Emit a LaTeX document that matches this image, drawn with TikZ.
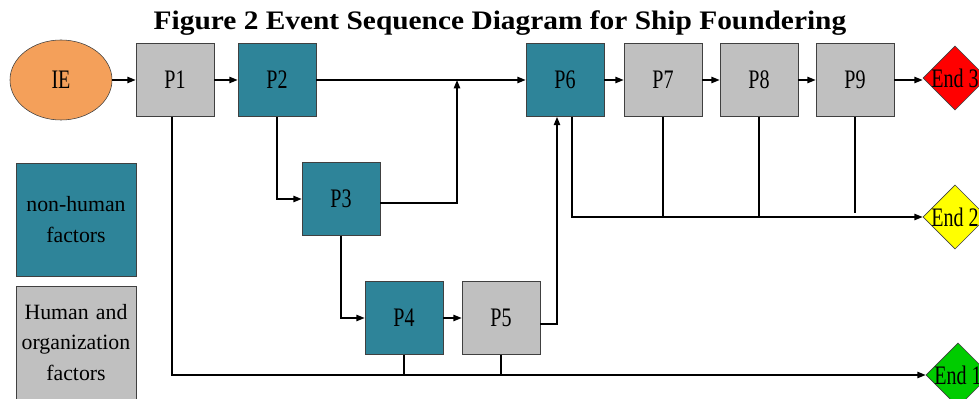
\documentclass[tikz,border=0pt]{standalone}
\usepackage{fontspec}
\setmainfont{Liberation Serif}
\newfontfamily\narrowfont[FakeStretch=0.75]{Liberation Serif}
\newfontfamily\titlefont[FakeStretch=1.1]{Liberation Serif}
\usetikzlibrary{shapes.geometric,arrows.meta}
\definecolor{factorteal}{RGB}{46,132,153}
\definecolor{factorgray}{RGB}{192,192,192}
\definecolor{ieorange}{RGB}{244,160,90}
\definecolor{endred}{RGB}{255,0,0}
\definecolor{endyellow}{RGB}{255,255,0}
\definecolor{endgreen}{RGB}{0,204,0}

\begin{document}
\begin{tikzpicture}[x=0.025cm, y=-0.025cm, font=\fontsize{15.5}{22}\selectfont]
        \tikzstyle{proc}=[rectangle, draw=black!75, minimum width=1.95cm, minimum height=1.825cm, inner sep=1pt, font=\fontsize{19}{22}\narrowfont]
        \tikzstyle{nonhuman}=[proc, fill=factorteal]
        \tikzstyle{human}=[proc, fill=factorgray]
        \tikzstyle{legend}=[rectangle, draw=black!75, minimum width=3cm, minimum height=2.825cm, text width=2.9cm, align=center, inner sep=1pt]
        \tikzstyle{endstate}=[diamond, draw=black!75, minimum width=1.6cm, minimum height=1.6cm, inner sep=0pt]
        \tikzstyle{endlabel}=[font=\fontsize{19}{22}\narrowfont]
        \tikzstyle{flow}=[line width=1.2pt, -{Triangle[length=6pt,width=4.5pt]}]
        \tikzstyle{link}=[line width=1.2pt]
        \clip (0,0) rectangle (979,399);
        \node [font=\fontsize{19}{22}\titlefont\bfseries] (title) at (500,23) {Figure 2 Event Sequence Diagram for Ship Foundering};
        \node [ellipse, draw=black!75, fill=ieorange, minimum width=2.55cm, minimum height=2cm, font=\fontsize{19}{22}\narrowfont] (ie) at (61,80) {IE};
        \node [human] (p1) at (175,80) {P1};
        \node [nonhuman] (p2) at (277,80) {P2};
        \node [nonhuman] (p3) at (341,199) {P3};
        \node [nonhuman] (p4) at (404,318) {P4};
        \node [human] (p5) at (501,318) {P5};
        \node [nonhuman] (p6) at (565,80) {P6};
        \node [human] (p7) at (663,80) {P7};
        \node [human] (p8) at (759,80) {P8};
        \node [human] (p9) at (855,80) {P9};
        \node [endstate, fill=endred, label={[endlabel]center:End 3}] (end3) at (955,78) {};
        \node [endstate, fill=endyellow, label={[endlabel]center:End 2}] (end2) at (955,217) {};
        \node [endstate, fill=endgreen, label={[endlabel]center:End 1}] (end1) at (958,375) {};
        \node [legend, fill=factorteal] (lgnonhuman) at (76,219.5) {non-human\\factors};
        \node [legend, fill=factorgray] (lghuman) at (76,342.5) {Human and\\organization\\factors};
        \coordinate (join) at (457,80);
        % main line
        \draw[flow] (ie) -- (p1);
        \draw[flow] (p1) -- (p2);
        \draw[flow] (p2) -- (p6);
        \draw[flow] (p6) -- (p7);
        \draw[flow] (p7) -- (p8);
        \draw[flow] (p8) -- (p9);
        \draw[flow] (p9) -- (end3.west |- p9);
        % branches
        \draw[flow] (p2.south) |- (p3.west);
        \draw[flow] ([yshift=-0.1cm]p3.east) -| (join);
        \draw[flow] (p3.south) |- (p4.west);
        \draw[flow] (p4) -- (p5);
        \draw[flow] ([yshift=-0.15cm]p5.east) -| ([xshift=-0.2cm]p6.south);
        % to end 2
        \draw[flow] ([xshift=0.175cm]p6.south) |- (end2);
        \draw[link] (p7.south) -- (p7.south |- end2);
        \draw[link] (p8.south) -- (p8.south |- end2);
        \draw[link] (p9.south) -- ([yshift=0.1cm]p9.south |- end2);
        % to end 1
        \draw[flow] ([xshift=-0.075cm]p1.south) |- (end1);
        \draw[link] (p4.south) -- (p4.south |- end1);
        \draw[link] (p5.south) -- (p5.south |- end1);
    \end{tikzpicture}
\end{document}
